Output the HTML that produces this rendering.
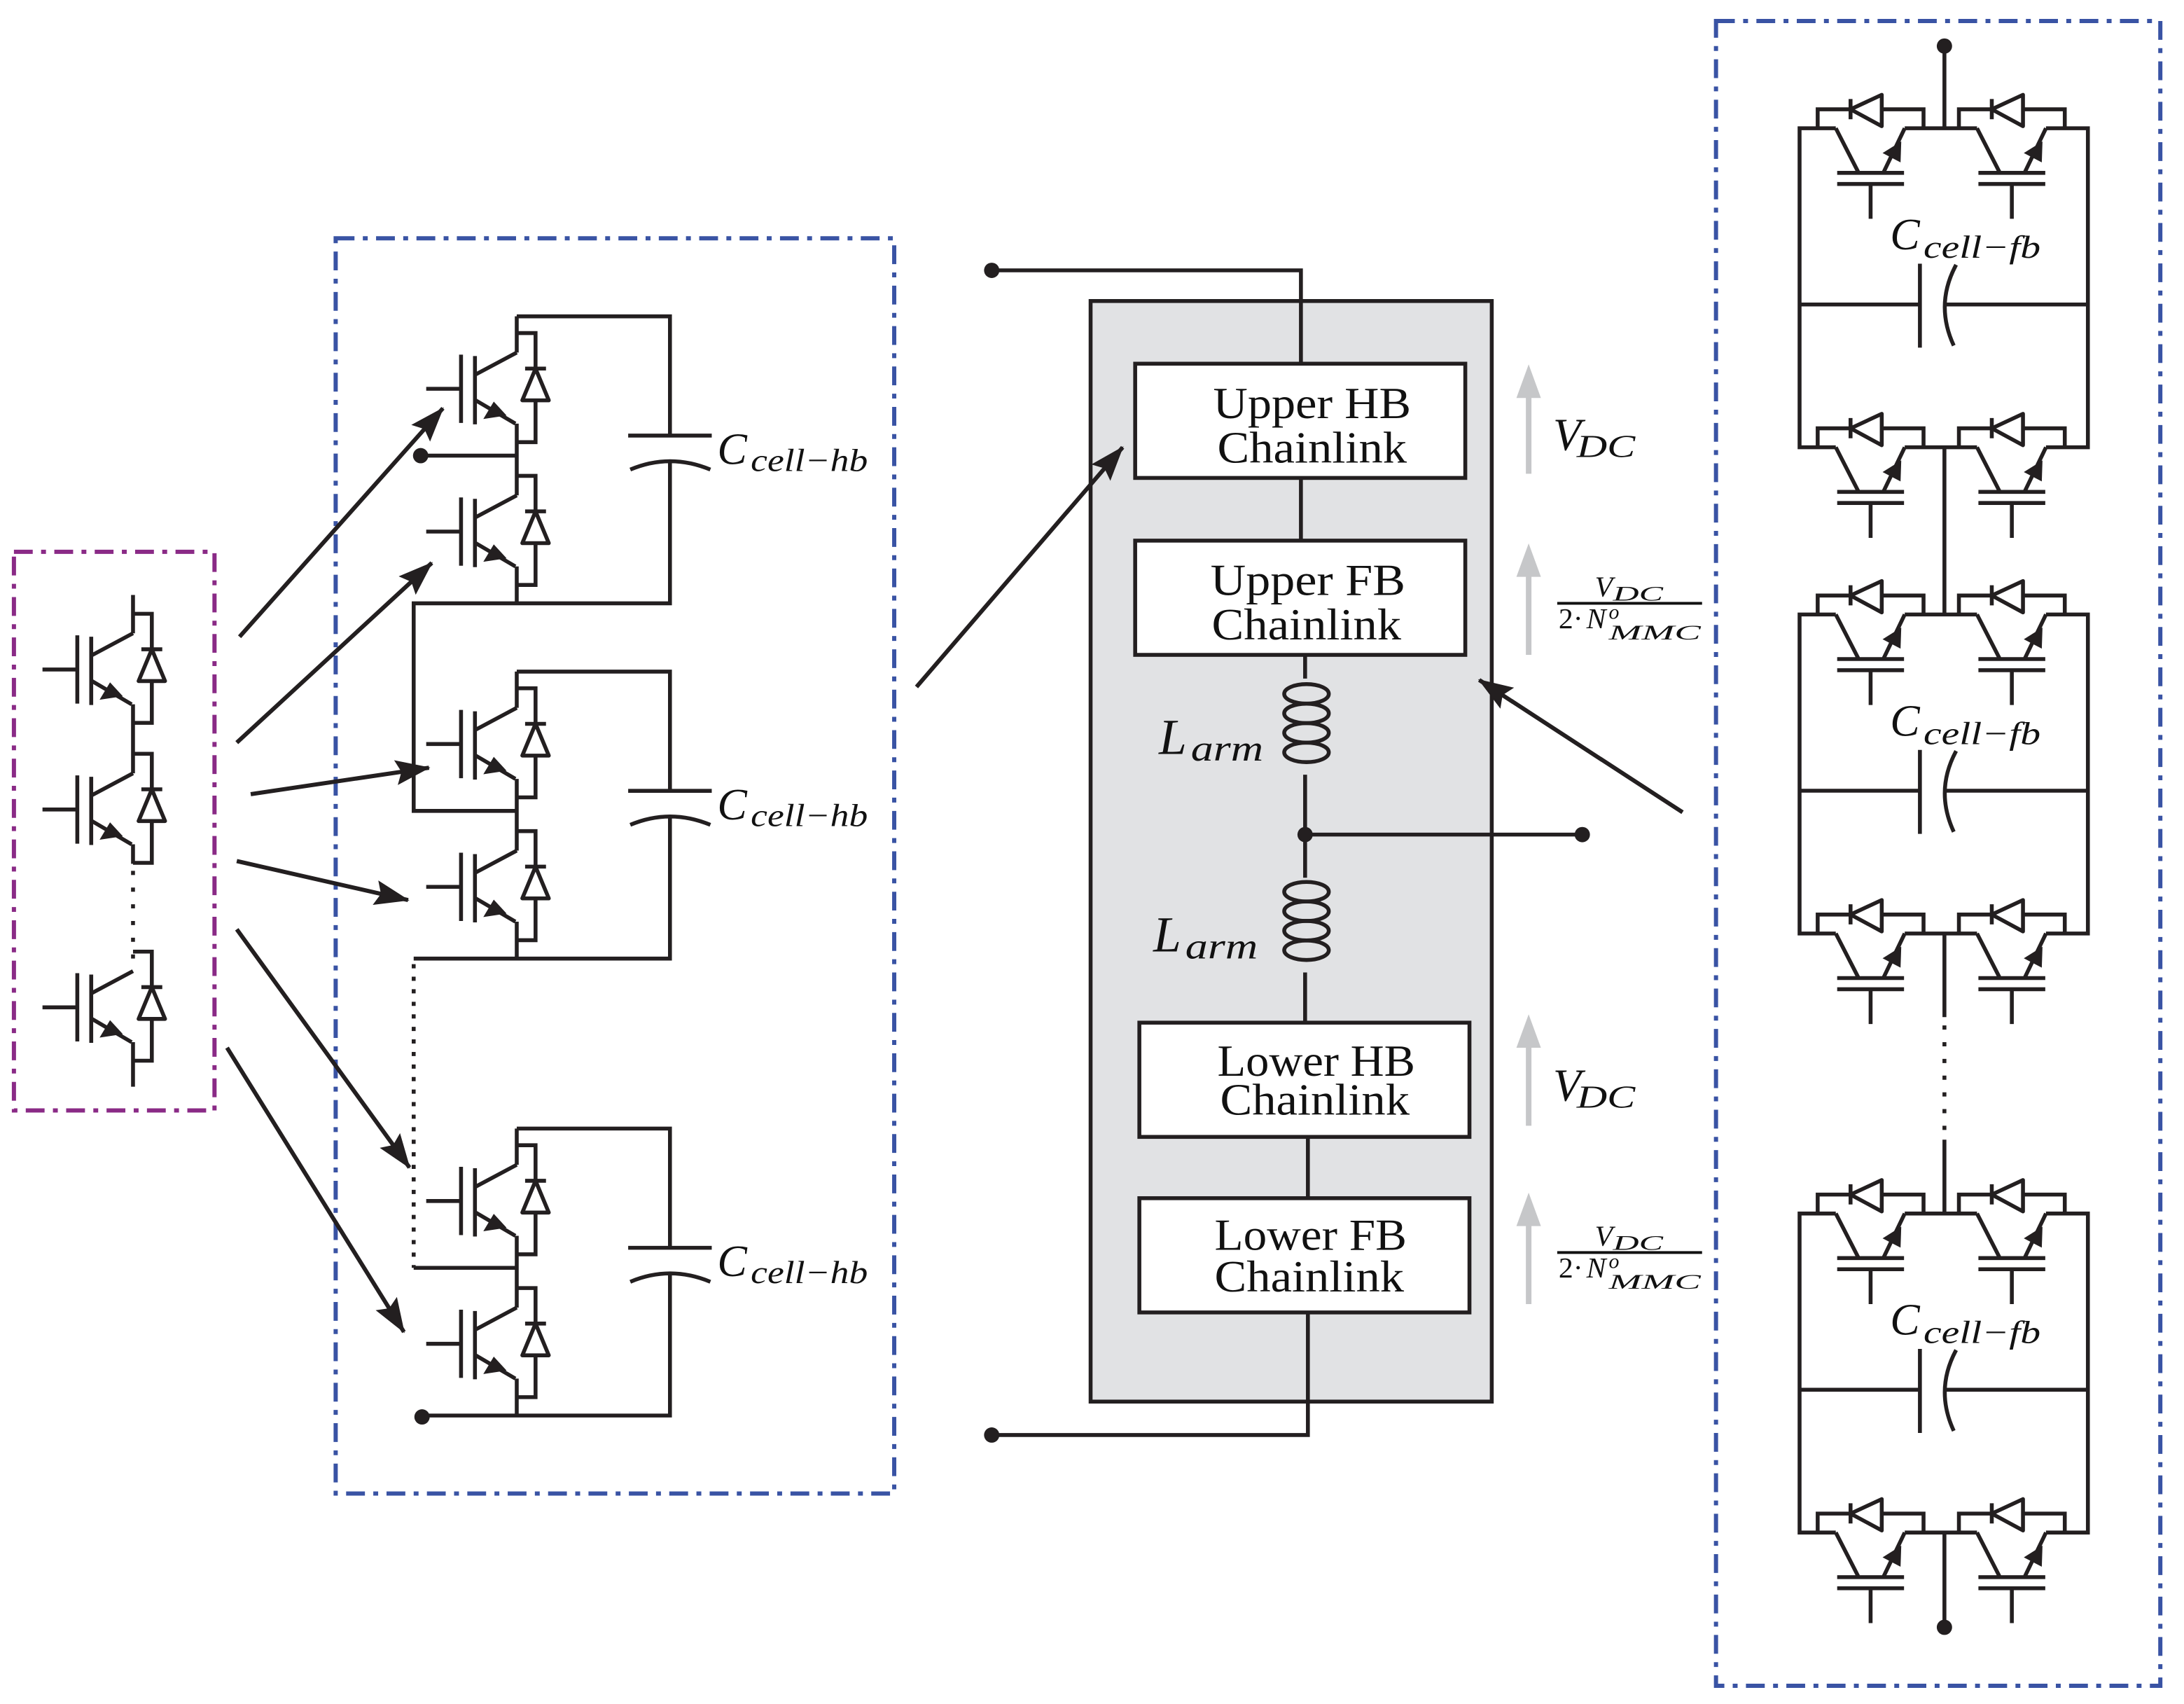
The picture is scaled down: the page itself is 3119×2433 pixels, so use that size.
<!DOCTYPE html>
<html><head><meta charset="utf-8"><style>
html,body{margin:0;padding:0;background:#fff}
svg{display:block}
.m{font-family:"Liberation Serif",serif;font-style:italic;fill:#111}
.r{font-family:"Liberation Serif",serif;fill:#111}
</style></head><body>
<svg width="3119" height="2433" viewBox="0 0 1568 1223" xmlns="http://www.w3.org/2000/svg">
<defs>
<marker id="ah" markerWidth="26" markerHeight="18" refX="24" refY="9" orient="auto" markerUnits="userSpaceOnUse">
<path d="M0,0 L25,9 L0,18 L4,9 Z" fill="#231f20"/>
</marker>
<g id="hb" fill="none" stroke="#231f20" stroke-width="2.8">
<path d="M0,0 L-30,16 M-30,2.5 V51.5 M-40,1.5 V50.5 M-65,26 H-40 M-30,34 L-1,51 M0,-14 H13.5 V11.5 M6,11.5 H21 M13.5,34.3 V64.3 H0"/>
<path d="M13.5,11.5 L4,34.3 H23 Z" fill="#fff" stroke-linejoin="round"/>
<polygon points="-24,47.7 -16.5,35.2 -7.3,45.2" fill="#231f20" stroke="none"/>
</g>
<g id="fb" fill="none" stroke="#231f20" stroke-width="2.8">
<path d="M0,0 V-13.6 H76 V0 M13,0 L29,31.2 M62.5,0 L47.5,31.2 M14,32 H62 M14,40 H62 M38,40 V65 M23.6,-21 V-6.5"/>
<path d="M23.6,-13.6 L46,-24 V-1.5 Z" fill="#fff" stroke-linejoin="round"/>
<polygon points="46.6,17.8 60,9.4 59.5,24.5" fill="#231f20" stroke="none"/>
</g>
<g id="fbcell" fill="none" stroke="#231f20" stroke-width="2.8">
<use href="#fb" x="1305" y="0"/><use href="#fb" x="1406.4" y="0"/>
<use href="#fb" x="1305" y="229"/><use href="#fb" x="1406.4" y="229"/>
<path d="M1318,0 H1292 V229 H1318 M1367.5,0 H1419.4 M1468.9,0 H1499 V229 H1468.9 M1367.5,229 H1419.4"/>
<path d="M1292,126.5 H1378.4 M1378.4,97.2 V157.5 M1397,126.5 H1499"/>
<path d="M1404.4,98 Q1389,126.5 1402.7,156"/>
</g>
</defs>

<!-- dash-dot boxes -->
<rect x="10" y="396" width="144" height="401" fill="none" stroke="#8a2a86" stroke-width="3" stroke-dasharray="13.5 6 3.5 6"/>
<rect x="241" y="171" width="401" height="901" fill="none" stroke="#3953a4" stroke-width="3" stroke-dasharray="13.5 6 3.5 6"/>
<rect x="1232" y="15" width="319" height="1195" fill="none" stroke="#3953a4" stroke-width="3" stroke-dasharray="13.5 6 3.5 6"/>

<!-- left module -->
<g fill="none" stroke="#231f20" stroke-width="2.8">
<use href="#hb" x="95.5" y="454.5"/>
<use href="#hb" x="95.5" y="555"/>
<use href="#hb" x="95.5" y="697"/>
<path d="M95.5,427 V454.5 M95.5,505.5 V555 M95.5,606 V620 M95.5,748 V780"/>
<path d="M95.5,625 V690" stroke-dasharray="3 9"/>
</g>

<!-- HB cells -->
<g fill="none" stroke="#231f20" stroke-width="2.8">
<use href="#hb" x="371" y="253"/><use href="#hb" x="371" y="355.5"/>
<use href="#hb" x="371" y="508"/><use href="#hb" x="371" y="610.5"/>
<use href="#hb" x="371" y="836"/><use href="#hb" x="371" y="938.5"/>
<path d="M371,227 V253 M371,304 V355.5 M371,406.5 V433 M371,227 H481 V312.6 M451,312.6 H511 M481,331 V433 H297 V582 H371"/>
<path d="M452.5,337 Q481,325 510,337"/>
<path d="M302,327 H371"/>
<path d="M371,482 V508 M371,559 V610.5 M371,661.5 V688 M371,482 H481 V567.6 M451,567.6 H511 M481,586 V688 H297"/>
<path d="M452.5,592 Q481,580 510,592"/>
<path d="M297,692 V910" stroke-dasharray="3 6"/>
<path d="M297,910 H371"/>
<path d="M371,810 V836 M371,887 V938.5 M371,989.5 V1016 M371,810 H481 V895.6 M451,895.6 H511 M481,914 V1016 H303"/>
<path d="M452.5,920 Q481,908 510,920"/>
</g>
<circle cx="302" cy="327" r="5.5" fill="#231f20"/>
<circle cx="303" cy="1017" r="5.5" fill="#231f20"/>
<text class="m" x="515" y="333" font-size="32">C</text><text class="m" x="539" y="338" font-size="23" textLength="84" lengthAdjust="spacingAndGlyphs">cell−hb</text>
<text class="m" x="515" y="588" font-size="32">C</text><text class="m" x="539" y="593" font-size="23" textLength="84" lengthAdjust="spacingAndGlyphs">cell−hb</text>
<text class="m" x="515" y="916" font-size="32">C</text><text class="m" x="539" y="921" font-size="23" textLength="84" lengthAdjust="spacingAndGlyphs">cell−hb</text>

<!-- middle -->
<rect x="783" y="216" width="288" height="790" fill="#e1e2e4" stroke="#231f20" stroke-width="2.8"/>
<g fill="none" stroke="#231f20" stroke-width="2.8">
<path d="M712,194 H934 V261 M934,343 V388 M937,470 V487 M937,556 V630 M937,698 V734 M937,599 H1136 M939,816 V860 M939,942 V1030 H712"/>
<ellipse cx="938" cy="498" rx="16" ry="7"/><ellipse cx="938" cy="512" rx="16" ry="7"/><ellipse cx="938" cy="526" rx="16" ry="7"/><ellipse cx="938" cy="540" rx="16" ry="7"/>
<ellipse cx="938" cy="640" rx="16" ry="7"/><ellipse cx="938" cy="654" rx="16" ry="7"/><ellipse cx="938" cy="668" rx="16" ry="7"/><ellipse cx="938" cy="682" rx="16" ry="7"/>
</g>
<g fill="#fff" stroke="#231f20" stroke-width="2.8">
<rect x="815" y="261" width="237" height="82"/>
<rect x="815" y="388" width="237" height="82"/>
<rect x="818" y="734" width="237" height="82"/>
<rect x="818" y="860" width="237" height="82"/>
</g>
<circle cx="712" cy="194" r="5.5" fill="#231f20"/>
<circle cx="712" cy="1030" r="5.5" fill="#231f20"/>
<circle cx="937" cy="599" r="5.5" fill="#231f20"/>
<circle cx="1136" cy="599" r="5.5" fill="#231f20"/>
<g class="r" font-size="32">
<text x="871" y="300" textLength="142" lengthAdjust="spacingAndGlyphs">Upper HB</text>
<text x="874" y="332" textLength="136" lengthAdjust="spacingAndGlyphs">Chainlink</text>
<text x="869" y="427" textLength="140" lengthAdjust="spacingAndGlyphs">Upper FB</text>
<text x="870" y="459" textLength="136" lengthAdjust="spacingAndGlyphs">Chainlink</text>
<text x="874" y="772" textLength="142" lengthAdjust="spacingAndGlyphs">Lower HB</text>
<text x="876" y="800" textLength="136" lengthAdjust="spacingAndGlyphs">Chainlink</text>
<text x="872" y="897" textLength="138" lengthAdjust="spacingAndGlyphs">Lower FB</text>
<text x="872" y="927" textLength="136" lengthAdjust="spacingAndGlyphs">Chainlink</text>
</g>
<text class="m" x="832" y="541" font-size="36">L</text><text class="m" x="855" y="546" font-size="26" textLength="52" lengthAdjust="spacingAndGlyphs">arm</text>
<text class="m" x="828" y="683" font-size="36">L</text><text class="m" x="851" y="688" font-size="26" textLength="52" lengthAdjust="spacingAndGlyphs">arm</text>

<!-- arrows -->
<g stroke="#231f20" stroke-width="3" marker-end="url(#ah)">
<line x1="172" y1="457" x2="318" y2="293"/>
<line x1="170" y1="533" x2="310" y2="404"/>
<line x1="180" y1="570" x2="308" y2="551"/>
<line x1="170" y1="618" x2="293" y2="646"/>
<line x1="170" y1="667" x2="294" y2="838"/>
<line x1="163" y1="752" x2="290" y2="956"/>
<line x1="658" y1="493" x2="806" y2="321"/>
<line x1="1208" y1="583" x2="1062" y2="488"/>
</g>

<!-- grey arrows -->
<g fill="#c6c7c9">
<rect x="1095.5" y="283" width="4" height="57"/><polygon points="1097.5,261.5 1088.7,285.6 1106.3,285.6"/>
<rect x="1095.5" y="412" width="4" height="58"/><polygon points="1097.5,390 1088.7,414 1106.3,414"/>
<rect x="1095.5" y="750" width="4" height="58"/><polygon points="1097.5,728 1088.7,752 1106.3,752"/>
<rect x="1095.5" y="878" width="4" height="58"/><polygon points="1097.5,856 1088.7,880 1106.3,880"/>
</g>
<text class="m" x="1115" y="323" font-size="33">V</text><text class="m" x="1132" y="328" font-size="23" textLength="42" lengthAdjust="spacingAndGlyphs">DC</text>
<text class="m" x="1115" y="790" font-size="33">V</text><text class="m" x="1132" y="795" font-size="23" textLength="42" lengthAdjust="spacingAndGlyphs">DC</text>
<g>
<text class="m" x="1145" y="428" font-size="21">V</text><text class="m" x="1158" y="431" font-size="15" textLength="36" lengthAdjust="spacingAndGlyphs">DC</text>
<rect x="1118" y="432" width="104" height="2" fill="#111"/>
<text class="r" x="1119" y="451" font-size="21">2·</text><text class="m" x="1139" y="451" font-size="21">N</text><text class="m" x="1155" y="444" font-size="15">o</text><text class="m" x="1155" y="459" font-size="15" textLength="66" lengthAdjust="spacingAndGlyphs">MMC</text>
<text class="m" x="1145" y="894" font-size="21">V</text><text class="m" x="1158" y="897" font-size="15" textLength="36" lengthAdjust="spacingAndGlyphs">DC</text>
<rect x="1118" y="898" width="104" height="2" fill="#111"/>
<text class="r" x="1119" y="917" font-size="21">2·</text><text class="m" x="1139" y="917" font-size="21">N</text><text class="m" x="1155" y="910" font-size="15">o</text><text class="m" x="1155" y="925" font-size="15" textLength="66" lengthAdjust="spacingAndGlyphs">MMC</text>
</g>

<!-- FB cells -->
<use href="#fbcell" x="0" y="92"/>
<use href="#fbcell" x="0" y="441"/>
<use href="#fbcell" x="0" y="871"/>
<g fill="none" stroke="#231f20" stroke-width="2.8">
<path d="M1396,33 V92 M1396,321 V441 M1396,670 V730 M1396,818 V871 M1396,1100 V1168"/>
<path d="M1396,736 V814" stroke-dasharray="3 9"/>
</g>
<circle cx="1396" cy="33" r="5.5" fill="#231f20"/>
<circle cx="1396" cy="1168" r="5.5" fill="#231f20"/>
<text class="m" x="1357" y="179" font-size="32">C</text><text class="m" x="1381" y="185" font-size="23" textLength="84" lengthAdjust="spacingAndGlyphs">cell−fb</text>
<text class="m" x="1357" y="528" font-size="32">C</text><text class="m" x="1381" y="534" font-size="23" textLength="84" lengthAdjust="spacingAndGlyphs">cell−fb</text>
<text class="m" x="1357" y="958" font-size="32">C</text><text class="m" x="1381" y="964" font-size="23" textLength="84" lengthAdjust="spacingAndGlyphs">cell−fb</text>
</svg>
</body></html>
